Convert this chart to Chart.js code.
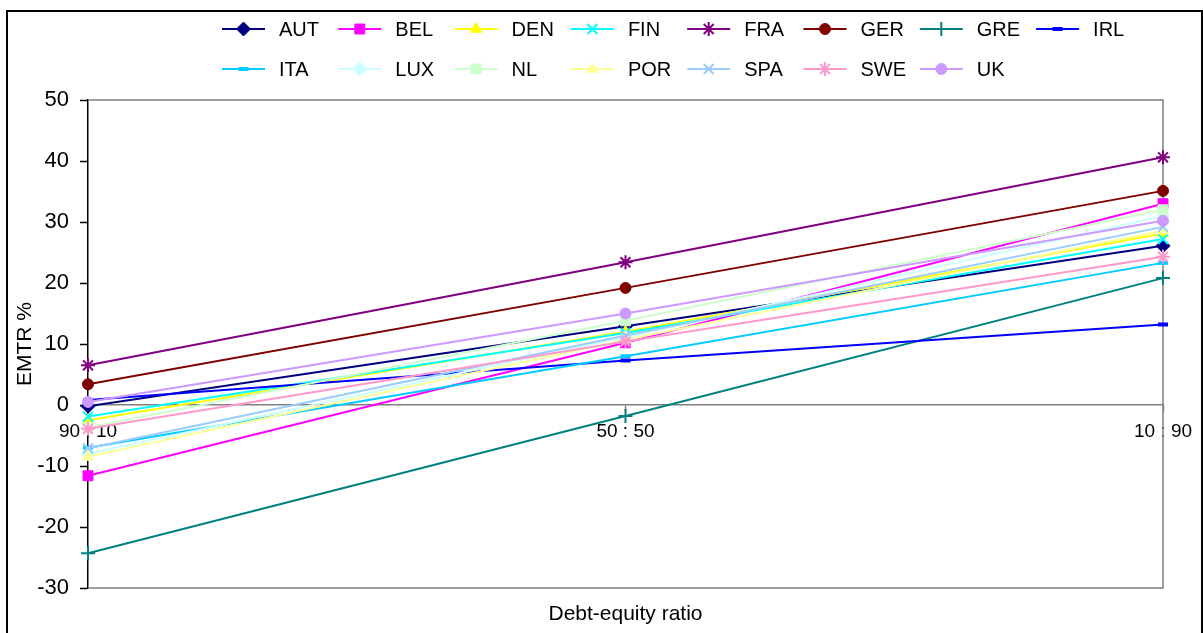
<!DOCTYPE html>
<html>
<head>
<meta charset="utf-8">
<script src="https://cdn.jsdelivr.net/npm/chart.js@4/dist/chart.umd.min.js"></script>
<style>
  html, body { margin: 0; padding: 0; background: #ffffff; }
  #wrap { position: relative; width: 1203px; height: 633px; }
</style>
</head>
<body>
<div id="wrap"><canvas id="c" width="1203" height="633"></canvas></div>
<script>
// Debt-equity ratio categories
const ratios = ['90 : 10', '50 : 50', '10 : 90'];

// EMTR % by country at each debt-equity ratio
const AUT = [-0.2, 12.9, 26.1];
const BEL = [-11.6, 10.2, 33.0];
const DEN = [-2.5, 12.0, 28.1];
const FIN = [-1.9, 11.8, 27.2];
const FRA = [6.5, 23.4, 40.6];
const GER = [3.4, 19.2, 35.1];
const GRE = [-24.3, -1.8, 20.8];
const IRL = [0.8, 7.3, 13.2];
const ITA = [-7.0, 8.0, 23.3];
const LUX = [-8.0, 11.1, 31.0];
const NL  = [-3.7, 13.8, 32.0];
const POR = [-8.5, 10.7, 28.6];
const SPA = [-7.1, 11.4, 29.2];
const SWE = [-3.9, 10.4, 24.3];
const UK  = [0.5, 15.0, 30.2];

const yTicks = [50, 40, 30, 20, 10, 0, -10, -20, -30];

const FONT = '"Liberation Sans", Arial, sans-serif';

function series(label, data, color, style, extra) {
  return Object.assign({
    label, data,
    borderColor: color,
    backgroundColor: color,
    pointBackgroundColor: color,
    pointBorderColor: color,
    borderWidth: 2,
    pointStyle: style,
    pointRadius: 6,
    pointBorderWidth: 1,
    tension: 0,
    fill: false
  }, extra || {});
}

const dash = { pointStyle: 'line', pointBorderWidth: 4, pointRadius: 5 };
const crossy = { pointBorderWidth: 2, pointRadius: 7 };
const boxy = { pointRadius: 7 };

const datasets = [
  series('AUT', AUT, '#000080', 'rectRot', boxy),
  series('BEL', BEL, '#FF00FF', 'rect', boxy),
  series('DEN', DEN, '#FFFF00', 'triangle', { pointRadius: 6.5 }),
  series('FIN', FIN, '#00FFFF', 'crossRot', crossy),
  series('FRA', FRA, '#800080', 'star', crossy),
  series('GER', GER, '#800000', 'circle', { pointRadius: 5.5 }),
  series('GRE', GRE, '#008080', 'cross', crossy),
  series('IRL', IRL, '#0000FF', 'line', dash),
  series('ITA', ITA, '#00CCFF', 'line', dash),
  series('LUX', LUX, '#CCFFFF', 'rectRot', boxy),
  series('NL',  NL,  '#CCFFCC', 'rect', boxy),
  series('POR', POR, '#FFFF99', 'triangle', { pointRadius: 6.5 }),
  series('SPA', SPA, '#99CCFF', 'crossRot', crossy),
  series('SWE', SWE, '#FF99CC', 'star', crossy),
  series('UK',  UK,  '#CC99FF', 'circle', { pointRadius: 5.5 })
];
// later series are painted above earlier ones
datasets.forEach((d, i) => { d.order = datasets.length - i; });

// frame around the plot area and the outer chart box
const framePlugin = {
  id: 'frame',
  beforeDatasetsDraw(chart) {
    const { ctx, chartArea: a } = chart;
    ctx.save();
    ctx.strokeStyle = '#808080';
    ctx.lineWidth = 1.5;
    ctx.beginPath();
    ctx.moveTo(a.left, a.top);
    ctx.lineTo(a.right, a.top);
    ctx.lineTo(a.right, a.bottom);
    ctx.lineTo(a.left, a.bottom);
    ctx.stroke();
    ctx.restore();
  },
  afterDraw(chart) {
    const { ctx } = chart;
    ctx.save();
    ctx.strokeStyle = '#000000';
    ctx.lineWidth = 2;
    ctx.beginPath();
    ctx.moveTo(7, 640);
    ctx.lineTo(7, 11);
    ctx.lineTo(1202, 11);
    ctx.lineTo(1202, 640);
    ctx.stroke();
    ctx.restore();
  }
};

// two-row legend laid out on a fixed grid
const gridLegend = {
  id: 'gridLegend',
  afterDraw(chart) {
    const { ctx } = chart;
    ctx.save();
    ctx.font = '20px ' + FONT;
    ctx.textBaseline = 'middle';
    ctx.textAlign = 'left';
    chart.data.datasets.forEach((d, i) => {
      const col = i % 8, row = Math.floor(i / 8);
      const x0 = 222 + col * 116.3;
      const y = 29 + row * 40;
      ctx.strokeStyle = d.borderColor;
      ctx.fillStyle = d.borderColor;
      ctx.lineWidth = 2;
      ctx.beginPath();
      ctx.moveTo(x0, y);
      ctx.lineTo(x0 + 43, y);
      ctx.stroke();
      ctx.lineWidth = d.pointBorderWidth;
      Chart.helpers.drawPoint(ctx, {
        pointStyle: d.pointStyle,
        rotation: 0,
        radius: d.pointRadius,
        borderWidth: d.pointBorderWidth
      }, x0 + 21.5, y);
      ctx.fillStyle = '#000000';
      ctx.fillText(d.label, x0 + 57, y + 1);
    });
    ctx.restore();
  }
};

new Chart(document.getElementById('c'), {
  type: 'line',
  data: { labels: ratios, datasets },
  options: {
    responsive: false,
    animation: false,
    layout: { padding: { top: 100, right: 40, left: 0, bottom: 0 } },
    plugins: { legend: { display: false }, tooltip: { enabled: false } },
    scales: {
      x: {
        type: 'category',
        offset: false,
        position: { y: 0 },
        grid: { drawOnChartArea: false, color: '#808080', tickLength: 6, tickWidth: 1.5 },
        border: { color: '#808080', width: 1.5 },
        ticks: { color: '#000000', font: { family: FONT, size: 19 }, padding: 9, maxRotation: 0, autoSkip: false }
      },
      xb: {
        type: 'category',
        position: 'bottom',
        offset: false,
        grid: { display: false },
        border: { display: false },
        ticks: { display: false },
        title: { display: true, text: 'Debt-equity ratio', color: '#000000', font: { family: FONT, size: 21 }, padding: { top: 0, bottom: 6 } },
        afterFit(s) { s.height = 45; }
      },
      y: {
        min: -30, max: 50,
        afterBuildTicks(s) { s.ticks = yTicks.map(v => ({ value: v })); },
        grid: { drawOnChartArea: false, color: '#000000', tickLength: 8, tickWidth: 1.5 },
        border: { color: '#000000', width: 1.5 },
        ticks: { color: '#000000', font: { family: FONT, size: 22 }, padding: 11 },
        title: { display: true, text: 'EMTR %', color: '#000000', font: { family: FONT, size: 21 }, padding: { top: 13, bottom: 0 } },
        afterFit(s) { s.width = 88; }
      }
    }
  },
  plugins: [framePlugin, gridLegend]
});
</script>
</body>
</html>
